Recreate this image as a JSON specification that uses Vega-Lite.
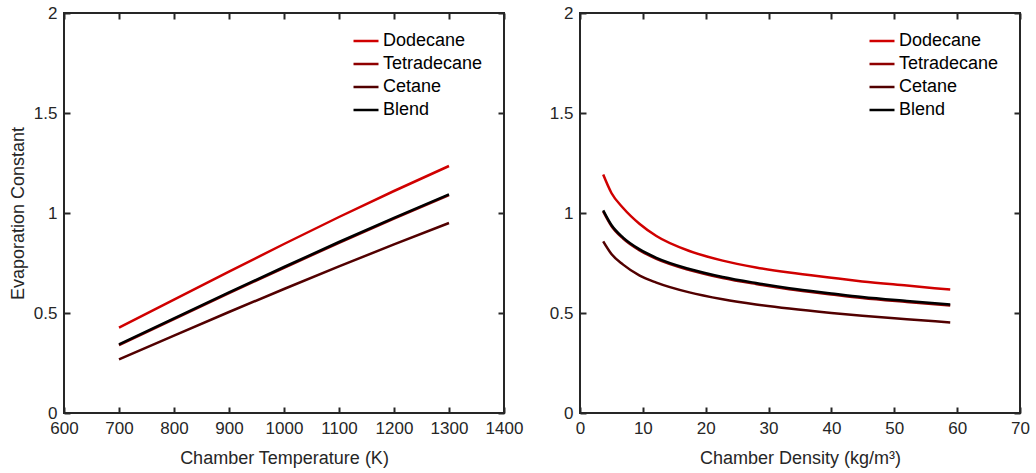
{
  "$schema": "https://vega.github.io/schema/vega-lite/v6.json",
  "padding": {"left": 8, "top": 3, "right": 8, "bottom": 4},
  "datasets": {
    "temp": [
      {"T": 700, "k": 0.427, "fuel": "Dodecane"}, {"T": 800, "k": 0.567, "fuel": "Dodecane"}, {"T": 900, "k": 0.707, "fuel": "Dodecane"}, {"T": 1000, "k": 0.845, "fuel": "Dodecane"}, {"T": 1100, "k": 0.98, "fuel": "Dodecane"}, {"T": 1200, "k": 1.11, "fuel": "Dodecane"}, {"T": 1300, "k": 1.235, "fuel": "Dodecane"},
      {"T": 700, "k": 0.339, "fuel": "Tetradecane"}, {"T": 800, "k": 0.469, "fuel": "Tetradecane"}, {"T": 900, "k": 0.599, "fuel": "Tetradecane"}, {"T": 1000, "k": 0.726, "fuel": "Tetradecane"}, {"T": 1100, "k": 0.851, "fuel": "Tetradecane"}, {"T": 1200, "k": 0.972, "fuel": "Tetradecane"}, {"T": 1300, "k": 1.089, "fuel": "Tetradecane"},
      {"T": 700, "k": 0.268, "fuel": "Cetane"}, {"T": 800, "k": 0.387, "fuel": "Cetane"}, {"T": 900, "k": 0.505, "fuel": "Cetane"}, {"T": 1000, "k": 0.62, "fuel": "Cetane"}, {"T": 1100, "k": 0.733, "fuel": "Cetane"}, {"T": 1200, "k": 0.843, "fuel": "Cetane"}, {"T": 1300, "k": 0.95, "fuel": "Cetane"},
      {"T": 700, "k": 0.343, "fuel": "Blend"}, {"T": 800, "k": 0.473, "fuel": "Blend"}, {"T": 900, "k": 0.603, "fuel": "Blend"}, {"T": 1000, "k": 0.73, "fuel": "Blend"}, {"T": 1100, "k": 0.855, "fuel": "Blend"}, {"T": 1200, "k": 0.976, "fuel": "Blend"}, {"T": 1300, "k": 1.093, "fuel": "Blend"}
    ],
    "dens": [
      {"rho": 3.69, "k": 1.192, "fuel": "Dodecane"}, {"rho": 5, "k": 1.1, "fuel": "Dodecane"}, {"rho": 6.86, "k": 1.025, "fuel": "Dodecane"}, {"rho": 9.5, "k": 0.945, "fuel": "Dodecane"}, {"rho": 12.15, "k": 0.885, "fuel": "Dodecane"}, {"rho": 17.4, "k": 0.81, "fuel": "Dodecane"}, {"rho": 22.7, "k": 0.762, "fuel": "Dodecane"}, {"rho": 28, "k": 0.728, "fuel": "Dodecane"}, {"rho": 33.3, "k": 0.702, "fuel": "Dodecane"}, {"rho": 40, "k": 0.676, "fuel": "Dodecane"}, {"rho": 44.9, "k": 0.658, "fuel": "Dodecane"}, {"rho": 52, "k": 0.637, "fuel": "Dodecane"}, {"rho": 58.9, "k": 0.617, "fuel": "Dodecane"},
      {"rho": 3.69, "k": 1.008, "fuel": "Tetradecane"}, {"rho": 5, "k": 0.935, "fuel": "Tetradecane"}, {"rho": 6.86, "k": 0.872, "fuel": "Tetradecane"}, {"rho": 9.5, "k": 0.813, "fuel": "Tetradecane"}, {"rho": 12.15, "k": 0.771, "fuel": "Tetradecane"}, {"rho": 17.4, "k": 0.715, "fuel": "Tetradecane"}, {"rho": 22.7, "k": 0.675, "fuel": "Tetradecane"}, {"rho": 28, "k": 0.645, "fuel": "Tetradecane"}, {"rho": 33.3, "k": 0.619, "fuel": "Tetradecane"}, {"rho": 40, "k": 0.593, "fuel": "Tetradecane"}, {"rho": 44.9, "k": 0.575, "fuel": "Tetradecane"}, {"rho": 52, "k": 0.555, "fuel": "Tetradecane"}, {"rho": 58.9, "k": 0.537, "fuel": "Tetradecane"},
      {"rho": 3.69, "k": 0.858, "fuel": "Cetane"}, {"rho": 5, "k": 0.795, "fuel": "Cetane"}, {"rho": 6.86, "k": 0.742, "fuel": "Cetane"}, {"rho": 9.5, "k": 0.687, "fuel": "Cetane"}, {"rho": 12.15, "k": 0.652, "fuel": "Cetane"}, {"rho": 17.4, "k": 0.603, "fuel": "Cetane"}, {"rho": 22.7, "k": 0.569, "fuel": "Cetane"}, {"rho": 28, "k": 0.543, "fuel": "Cetane"}, {"rho": 33.3, "k": 0.522, "fuel": "Cetane"}, {"rho": 40, "k": 0.5, "fuel": "Cetane"}, {"rho": 44.9, "k": 0.486, "fuel": "Cetane"}, {"rho": 52, "k": 0.469, "fuel": "Cetane"}, {"rho": 58.9, "k": 0.453, "fuel": "Cetane"},
      {"rho": 3.69, "k": 1.013, "fuel": "Blend"}, {"rho": 5, "k": 0.94, "fuel": "Blend"}, {"rho": 6.86, "k": 0.877, "fuel": "Blend"}, {"rho": 9.5, "k": 0.818, "fuel": "Blend"}, {"rho": 12.15, "k": 0.776, "fuel": "Blend"}, {"rho": 17.4, "k": 0.72, "fuel": "Blend"}, {"rho": 22.7, "k": 0.68, "fuel": "Blend"}, {"rho": 28, "k": 0.65, "fuel": "Blend"}, {"rho": 33.3, "k": 0.624, "fuel": "Blend"}, {"rho": 40, "k": 0.598, "fuel": "Blend"}, {"rho": 44.9, "k": 0.58, "fuel": "Blend"}, {"rho": 52, "k": 0.56, "fuel": "Blend"}, {"rho": 58.9, "k": 0.542, "fuel": "Blend"}
    ]
  },
  "config": {
    "font": "Liberation Sans",
    "view": {"stroke": "#262626", "strokeWidth": 2, "fill": "transparent"},
    "axis": {
      "grid": false,
      "domainColor": "#262626", "domainWidth": 2,
      "labelColor": "#262626", "labelFontSize": 17, "labelPadding": 7,
      "labelFlush": false, "labelOverlap": false,
      "titleColor": "#262626", "titleFontSize": 18, "titleFontWeight": "normal"
    },
    "legend": {
      "orient": "none", "title": null, "symbolType": "stroke", "symbolStrokeWidth": 3,
      "symbolSize": 625, "labelFontSize": 18, "labelColor": "#000000", "labelOffset": 3, "rowPadding": -1
    },
    "line": {"strokeWidth": 2.5}
  },
  "spacing": 24,
  "hconcat": [
    {
      "width": 440, "height": 400,
      "data": {"name": "temp"},
      "layer": [
        {
          "transform": [{"filter": "datum.fuel !== 'Blend'"}],
          "mark": {"type": "line"},
          "encoding": {
            "x": {"field": "T", "type": "quantitative", "scale": {"domain": [600, 1400], "nice": false}, "axis": {"orient": "bottom", "offset": -6, "zindex": 2, "domain": false, "ticks": true, "tickSize": 6, "tickWidth": 2, "tickColor": "#262626", "title": "Chamber Temperature (K)", "values": [600, 700, 800, 900, 1000, 1100, 1200, 1300, 1400], "format": "d", "titlePadding": 13}},
            "y": {"field": "k", "type": "quantitative", "scale": {"domain": [0, 2], "nice": false}, "axis": {"orient": "left", "offset": -6, "zindex": 2, "domain": false, "ticks": true, "tickSize": 6, "tickWidth": 2, "tickColor": "#262626", "title": "Evaporation Constant", "values": [0, 0.5, 1, 1.5, 2], "format": "~g", "titlePadding": 6}},
            "color": {"field": "fuel", "type": "nominal", "scale": {"domain": ["Dodecane", "Tetradecane", "Cetane", "Blend"], "range": ["#d00000", "#8f0000", "#520000", "#000000"]}, "legend": {"legendX": 288, "legendY": 14}}
          }
        },
        {
          "transform": [{"filter": "datum.fuel === 'Blend'"}],
          "mark": {"type": "line"},
          "encoding": {
            "x": {"field": "T", "type": "quantitative", "axis": {"orient": "top", "offset": -6, "zindex": 2, "minExtent": 0, "domain": false, "labels": false, "ticks": true, "tickSize": 6, "tickWidth": 2, "tickColor": "#262626", "title": null, "values": [600, 700, 800, 900, 1000, 1100, 1200, 1300, 1400]}},
            "y": {"field": "k", "type": "quantitative", "axis": {"orient": "right", "offset": -6, "zindex": 2, "minExtent": 0, "domain": false, "labels": false, "ticks": true, "tickSize": 6, "tickWidth": 2, "tickColor": "#262626", "title": null, "values": [0, 0.5, 1, 1.5, 2]}},
            "color": {"field": "fuel", "type": "nominal"}
          }
        }
      ],
      "resolve": {"axis": {"x": "independent", "y": "independent"}}
    },
    {
      "width": 440, "height": 400,
      "data": {"name": "dens"},
      "layer": [
        {
          "transform": [{"filter": "datum.fuel !== 'Blend'"}],
          "mark": {"type": "line", "interpolate": "monotone"},
          "encoding": {
            "x": {"field": "rho", "type": "quantitative", "scale": {"domain": [0, 70], "nice": false}, "axis": {"orient": "bottom", "offset": -6, "zindex": 2, "domain": false, "ticks": true, "tickSize": 6, "tickWidth": 2, "tickColor": "#262626", "title": "Chamber Density (kg/m³)", "values": [0, 10, 20, 30, 40, 50, 60, 70], "titlePadding": 13}},
            "y": {"field": "k", "type": "quantitative", "scale": {"domain": [0, 2], "nice": false}, "axis": {"orient": "left", "offset": -6, "zindex": 2, "domain": false, "ticks": true, "tickSize": 6, "tickWidth": 2, "tickColor": "#262626", "title": null, "values": [0, 0.5, 1, 1.5, 2], "format": "~g"}},
            "color": {"field": "fuel", "type": "nominal", "scale": {"domain": ["Dodecane", "Tetradecane", "Cetane", "Blend"], "range": ["#d00000", "#8f0000", "#520000", "#000000"]}, "legend": {"legendX": 288, "legendY": 14}}
          }
        },
        {
          "transform": [{"filter": "datum.fuel === 'Blend'"}],
          "mark": {"type": "line", "interpolate": "monotone"},
          "encoding": {
            "x": {"field": "rho", "type": "quantitative", "axis": {"orient": "top", "offset": -6, "zindex": 2, "minExtent": 0, "domain": false, "labels": false, "ticks": true, "tickSize": 6, "tickWidth": 2, "tickColor": "#262626", "title": null, "values": [0, 10, 20, 30, 40, 50, 60, 70]}},
            "y": {"field": "k", "type": "quantitative", "axis": {"orient": "right", "offset": -6, "zindex": 2, "minExtent": 0, "domain": false, "labels": false, "ticks": true, "tickSize": 6, "tickWidth": 2, "tickColor": "#262626", "title": null, "values": [0, 0.5, 1, 1.5, 2]}},
            "color": {"field": "fuel", "type": "nominal"}
          }
        }
      ],
      "resolve": {"axis": {"x": "independent", "y": "independent"}}
    }
  ],
  "resolve": {"scale": {"color": "independent"}, "legend": {"color": "independent"}}
}
